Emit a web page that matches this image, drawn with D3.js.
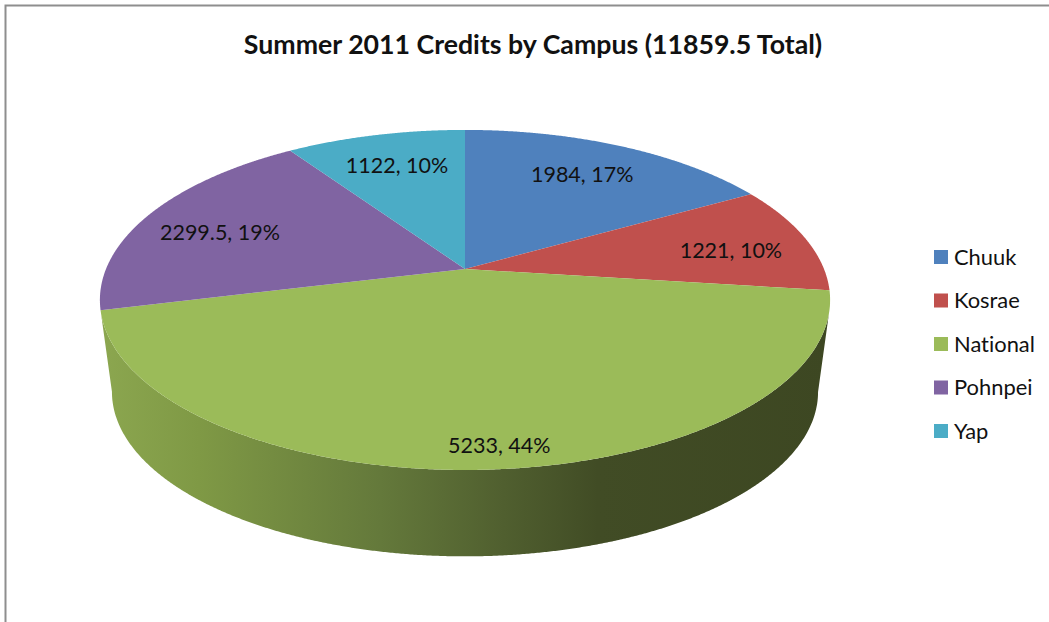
<!DOCTYPE html>
<html>
<head>
<meta charset="utf-8">
<script src="https://cdn.jsdelivr.net/npm/d3@7"></script>
<style>
html,body{margin:0;padding:0;background:#fff;overflow:hidden}
svg{display:block}
text{font-family:Lato,"Open Sans",sans-serif;fill:#111;font-variant-ligatures:none}
</style>
</head>
<body>
<svg id="chart" width="1049" height="622"></svg>
<script>
const titleText = "Summer 2011 Credits by Campus (11859.5 Total)";
const campuses = ["Chuuk","Kosrae","National","Pohnpei","Yap"];
const credits = [1984,1221,5233,2299.5,1122];
const percentLabels = ["17%","10%","44%","19%","10%"];
const colors = ["#4f81bd","#c0504d","#9bbb59","#8064a2","#4bacc6"];

// Perspective of the tilted disc
const apexX = 465, apexY = 269, scaleX = 359, scaleY = 164.4, persp = 0.182;
const deg = Math.PI/180;
function project(theta, r = 1, s = 1, dy = 0){
  const X = r*Math.sin(theta), Y = r*Math.cos(theta), w = 1 + persp*Y;
  return [apexX + s*scaleX*X/w, apexY + dy + s*scaleY*(-Y)/w];
}
const svg = d3.select("#chart");
const defs = svg.append("defs");
const grad = defs.append("linearGradient").attr("id","wall").attr("gradientUnits","userSpaceOnUse")
  .attr("x1",105).attr("x2",830).attr("y1",0).attr("y2",0);
[[0,"#8ba64f"],[0.13,"#7f9945"],[0.38,"#64793b"],[0.55,"#505f2f"],[0.68,"#414c25"],[1,"#3d4722"]]
  .forEach(([o,c])=>grad.append("stop").attr("offset",o).attr("stop-color",c));

// frame
svg.append("path").attr("d","M5.5,622V5.5H1049").attr("fill","none").attr("stroke","#8e8e8e").attr("stroke-width",2);

const pie = d3.pie().sort(null).value(d=>d)(credits);
const line = d3.line();
const arcPts = (a,b,fn)=>{const n=Math.max(2,Math.ceil(Math.abs(b-a)/(0.25*deg)));return d3.range(n+1).map(i=>fn(a+(b-a)*i/n));};

// side wall of the front slice
const depthDy = 93, depthScale = 0.967;
const nat = pie[2];
const wallTop = arcPts(nat.startAngle+6*deg, nat.endAngle, t=>project(t));
const wallBot = arcPts(nat.endAngle+3.4*deg, nat.startAngle+3.2*deg, t=>project(t,1,depthScale,depthDy));
svg.append("path").attr("d",line(wallTop.concat(wallBot))+"Z").attr("fill","url(#wall)");

// top faces
svg.selectAll("path.slice").data(pie).join("path").attr("class","slice")
  .attr("fill",(d,i)=>colors[i])
  .attr("d",d=>line([[apexX,apexY]].concat(arcPts(d.startAngle,d.endAngle,t=>project(t))))+"Z");

// data labels
const labelReach = [.735,.764,.9,.747,.743];
const labelTurn = [-.4,2.8,-1.8,-3.2,.3];
svg.selectAll("text.dl").data(pie).join("text").attr("class","dl")
  .attr("text-anchor","middle").attr("font-size",21.5)
  .attr("transform",(d,i)=>{const m=(d.startAngle+d.endAngle)/2+labelTurn[i]*deg;const p=project(m,labelReach[i]);return `translate(${p[0]},${p[1]+7.5})`;})
  .text((d,i)=>`${credits[i]}, ${percentLabels[i]}`);

// title
svg.append("text").attr("x",533).attr("y",54).attr("text-anchor","middle")
  .attr("font-size",26.7).attr("font-weight",700).text(titleText);

// legend
const legendY = d3.scalePoint().domain(campuses).range([257,431]);
const lg = svg.selectAll("g.lg").data(campuses).join("g").attr("class","lg")
  .attr("transform",d=>`translate(934,${legendY(d)})`);
lg.append("rect").attr("y",-7).attr("width",14).attr("height",14).attr("fill",(d,i)=>colors[i]);
lg.append("text").attr("x",20).attr("y",7.5).attr("font-size",21.9).text(d=>d);
</script>
</body>
</html>
